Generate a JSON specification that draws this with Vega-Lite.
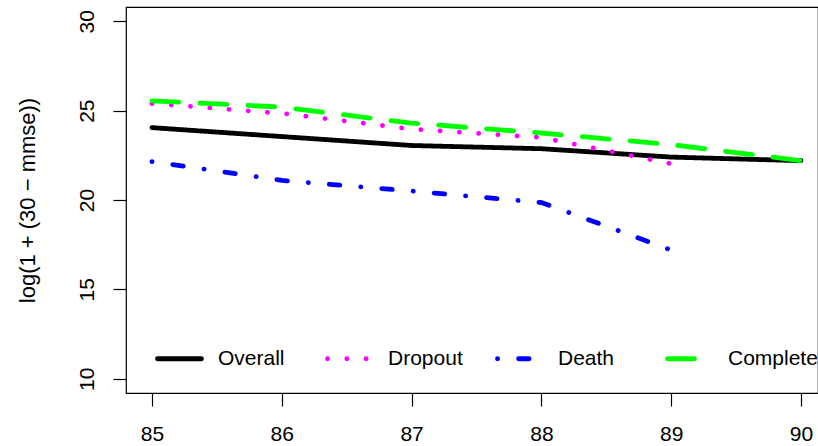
{
  "$schema": "https://vega.github.io/schema/vega-lite/v6.json",
  "autosize": {"type": "none"},
  "padding": {"left": 126, "top": 7, "right": 0, "bottom": 53},
  "width": 692,
  "height": 386,
  "background": "white",
  "config": {
    "font": "Liberation Sans",
    "view": {"stroke": "black", "strokeWidth": 1.2},
    "axis": {"grid": false, "domain": false, "tickColor": "black", "tickWidth": 1.2, "tickSize": 13, "labelColor": "black", "labelFontSize": 21, "titleFontSize": 22, "titleFontWeight": "normal", "titleColor": "black", "labelFont": "Liberation Sans", "titleFont": "Liberation Sans"}
  },
  "data": {"values": [
    {"age": 85, "value": 24.05, "group": "Overall"},
    {"age": 86, "value": 23.55, "group": "Overall"},
    {"age": 87, "value": 23.05, "group": "Overall"},
    {"age": 88, "value": 22.87, "group": "Overall"},
    {"age": 89, "value": 22.4, "group": "Overall"},
    {"age": 90, "value": 22.2, "group": "Overall"},
    {"age": 85, "value": 25.4, "group": "Dropout"},
    {"age": 86, "value": 24.85, "group": "Dropout"},
    {"age": 87, "value": 23.97, "group": "Dropout"},
    {"age": 88, "value": 23.5, "group": "Dropout"},
    {"age": 89, "value": 22.03, "group": "Dropout"},
    {"age": 85, "value": 22.15, "group": "Death"},
    {"age": 86, "value": 21.1, "group": "Death"},
    {"age": 87, "value": 20.5, "group": "Death"},
    {"age": 88, "value": 19.86, "group": "Death"},
    {"age": 89, "value": 17.2, "group": "Death"},
    {"age": 85, "value": 25.55, "group": "Complete"},
    {"age": 86, "value": 25.2, "group": "Complete"},
    {"age": 87, "value": 24.3, "group": "Complete"},
    {"age": 88, "value": 23.75, "group": "Complete"},
    {"age": 89, "value": 23.1, "group": "Complete"},
    {"age": 90, "value": 22.2, "group": "Complete"}
  ]},
  "mark": {"type": "line", "strokeWidth": 4.8, "strokeCap": "round", "strokeJoin": "round", "clip": true},
  "encoding": {
    "x": {"field": "age", "type": "quantitative", "scale": {"domain": [84.8, 90.131], "nice": false, "zero": false},
          "axis": {"values": [85, 86, 87, 88, 89, 90], "title": null, "labelPadding": 17, "labelBaseline": "top"}},
    "y": {"field": "value", "type": "quantitative", "scale": {"domain": [9.2, 30.8], "nice": false, "zero": false},
          "axis": {"values": [10, 15, 20, 25, 30], "title": "log(1 + (30 − mmse))", "labelAngle": -90, "labelAlign": "center", "labelBaseline": "alphabetic", "labelPadding": 20, "titleX": -99, "titleY": 193, "titleAngle": -90, "titleAlign": "center", "titleBaseline": "middle"}},
    "color": {"field": "group", "type": "nominal",
              "scale": {"domain": ["Overall", "Dropout", "Death", "Complete"], "range": ["#000000", "#FF00FF", "#0000FF", "#00FF00"]},
              "legend": {"title": null, "orient": "none", "legendX": 29, "legendY": 327, "direction": "horizontal", "columns": 4, "gridAlign": "all", "columnPadding": 9, "symbolType": "stroke", "symbolSize": 1936, "symbolStrokeWidth": 4.8, "labelOffset": 14, "labelFontSize": 21, "labelColor": "black", "labelFont": "Liberation Sans", "padding": 0, "encode": {"symbols": {"update": {"strokeCap": {"value": "round"}}}}}},
    "strokeDash": {"field": "group", "type": "nominal",
                   "scale": {"domain": ["Overall", "Dropout", "Death", "Complete"], "range": [[1, 0], [0.1, 19.2], [0.1, 21, 10.5, 21], [27, 21]]},
                   "legend": {"title": null, "orient": "none", "legendX": 29, "legendY": 327, "direction": "horizontal", "columns": 4, "gridAlign": "all", "columnPadding": 9, "symbolType": "stroke", "symbolSize": 1936, "symbolStrokeWidth": 4.8, "labelOffset": 14, "labelFontSize": 21, "labelColor": "black", "labelFont": "Liberation Sans", "padding": 0, "encode": {"symbols": {"update": {"strokeCap": {"value": "round"}}}}}}
  }
}
